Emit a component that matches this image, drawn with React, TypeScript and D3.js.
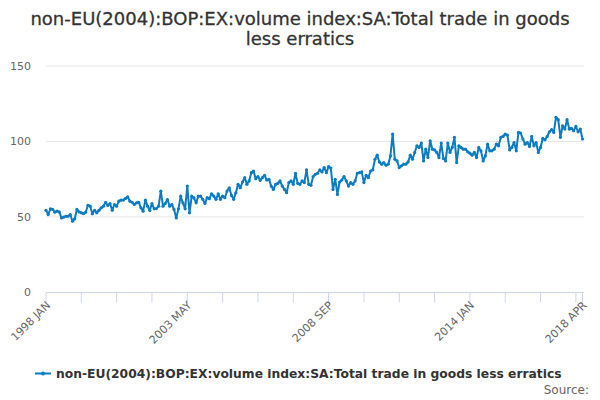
import React, { useEffect, useRef } from "react";
import * as d3 from "d3";

const titleLines = [
	"non-EU(2004):BOP:EX:volume index:SA:Total trade in goods",
	"less erratics",
];
const seriesName =
	"non-EU(2004):BOP:EX:volume index:SA:Total trade in goods less erratics";
const monthNames = ["JAN", "FEB", "MAR", "APR", "MAY", "JUN", "JUL", "AUG", "SEP", "OCT", "NOV", "DEC"];
const startYear = 1998;

// monthly values, 1998 JAN .. 2018 APR
const values = [
	54.4, 51.5, 55.3, 54.9, 53.1, 53.8, 53.3, 49.3, 49.8, 50.4,
	50.4, 51.5, 47.1, 48.7, 54.9, 53.3, 52.7, 52.2, 53.1, 57.7,
	57.1, 52.0, 54.4, 52.7, 54.4, 56.0, 57.1, 59.7, 57.5, 58.8,
	54.4, 58.2, 57.1, 60.4, 61.1, 61.1, 62.2, 63.3, 60.4, 59.7,
	58.2, 59.3, 59.7, 56.0, 53.8, 61.1, 57.1, 54.2, 58.8, 55.3,
	55.5, 57.1, 67.0, 57.1, 58.8, 61.5, 57.1, 58.2, 54.9, 49.3,
	55.3, 63.7, 59.3, 55.3, 70.4, 52.7, 63.7, 62.6, 59.3, 63.7,
	63.8, 61.6, 58.9, 62.7, 62.0, 65.3, 63.8, 61.6, 65.3, 61.6,
	63.8, 62.7, 67.1, 69.3, 64.2, 61.6, 66.0, 71.6, 69.3, 73.1,
	76.0, 71.6, 73.8, 79.3, 80.4, 75.3, 76.7, 74.2, 76.0, 77.6,
	74.4, 74.9, 70.4, 68.2, 71.6, 72.2, 73.8, 70.4, 68.2, 66.0,
	72.7, 73.8, 71.6, 78.9, 72.2, 71.6, 73.8, 72.7, 81.1, 71.6,
	70.9, 76.7, 78.2, 78.9, 81.1, 79.8, 82.7, 79.3, 83.3, 82.4,
	68.2, 74.9, 64.9, 73.1, 74.4, 76.7, 73.8, 70.4, 72.7, 71.6,
	73.8, 78.9, 79.3, 79.8, 72.7, 77.6, 76.0, 80.4, 81.1, 88.2,
	90.9, 86.4, 84.9, 86.0, 84.2, 84.9, 90.4, 104.9, 88.2, 87.1,
	82.7,
	83.8, 84.9, 84.9, 86.4, 90.9, 88.2, 92.7, 97.1, 96.0, 98.9,
	87.1, 94.9, 89.3, 100.4, 94.9, 94.4, 92.7, 89.3, 98.9, 88.7,
	87.1, 98.9, 92.7, 96.0, 102.7, 86.0, 97.1, 96.0, 94.9, 94.9,
	93.1, 92.2, 90.9, 92.7, 89.3, 96.0, 93.8, 87.1, 90.4, 98.2,
	93.8, 93.8, 94.9, 98.2, 97.1, 102.7, 103.3, 104.9, 104.2, 94.4,
	96.0, 99.3, 93.8, 106.0, 105.6, 101.6, 98.2, 99.3, 96.7, 103.3,
	97.1, 99.3, 92.7, 96.0, 102.0, 101.1, 103.3, 106.4, 107.8, 106.0,
	116.0, 114.4, 102.7, 110.4, 108.2, 114.4, 108.2, 108.7, 107.1, 110.0,
	106.4, 108.2, 101.6,
];

const months = values.map(
	(_, i) => `${startYear + Math.floor(i / 12)} ${monthNames[i % 12]}`
);
const yTicks = [0, 50, 100, 150];
const labelMonths = ["1998 JAN", "2003 MAY", "2008 SEP", "2014 JAN", "2018 APR"];

export default function App() {
	const svgRef = useRef(null);

	useEffect(() => {
		document.body.style.margin = "0";
		const font = "'DejaVu Sans', Verdana, sans-serif";
		const color = "#0b7cc2";

		const svg = d3.select(svgRef.current);
		svg.selectAll("*").remove();

		const x = d3.scalePoint().domain(months).range([46, 582.5]);
		const y = d3.scaleLinear().domain([0, 150]).range([292.3, 66]);

		// title
		svg.append("g")
			.selectAll("text")
			.data(titleLines)
			.join("text")
			.attr("x", 300)
			.attr("y", (d, i) => 25 + i * 20)
			.attr("text-anchor", "middle")
			.attr("font-family", font)
			.attr("font-size", 18)
			.attr("fill", "#333333")
			.attr("stroke", "#333333")
			.attr("stroke-width", 0.3)
			.text((d) => d);

		// gridlines + y labels
		const grid = svg.append("g");
		grid.selectAll("line")
			.data(yTicks.filter((t) => t > 0))
			.join("line")
			.attr("x1", 46)
			.attr("x2", 584)
			.attr("y1", (d) => y(d))
			.attr("y2", (d) => y(d))
			.attr("stroke", "#e6e6e6");
		grid.selectAll("text")
			.data(yTicks)
			.join("text")
			.attr("x", 31)
			.attr("y", (d) => y(d) + 4)
			.attr("text-anchor", "end")
			.attr("font-family", font)
			.attr("font-size", 11)
			.attr("fill", "#666666")
			.text((d) => d);

		// x axis
		const xAxis = svg.append("g");
		xAxis.append("line")
			.attr("x1", 46)
			.attr("x2", 584)
			.attr("y1", 292.5)
			.attr("y2", 292.5)
			.attr("stroke", "#ccd6eb");
		const tickMonths = months.filter((d, i) => i % 16 === 0 || i === months.length - 1);
		xAxis.selectAll("line.tick")
			.data(tickMonths)
			.join("line")
			.attr("class", "tick")
			.attr("x1", (d) => x(d))
			.attr("x2", (d) => x(d))
			.attr("y1", 292.5)
			.attr("y2", 302.5)
			.attr("stroke", "#ccd6eb");
		xAxis.selectAll("text")
			.data(labelMonths)
			.join("text")
			.attr("transform", (d) => `translate(${x(d) + 5},${306}) rotate(-45)`)
			.attr("text-anchor", "end")
			.attr("font-family", font)
			.attr("font-size", 11)
			.attr("fill", "#666666")
			.text((d) => d);

		// series line
		const line = d3
			.line()
			.x((d, i) => x(months[i]))
			.y((d) => y(d));
		svg.append("path")
			.datum(values)
			.attr("fill", "none")
			.attr("stroke", color)
			.attr("stroke-width", 2)
			.attr("stroke-linejoin", "round")
			.attr("d", line);
		svg.append("g")
			.selectAll("circle")
			.data(values)
			.join("circle")
			.attr("cx", (d, i) => x(months[i]))
			.attr("cy", (d) => y(d))
			.attr("r", 1.6)
			.attr("fill", color);

		// legend
		const legend = svg.append("g");
		legend.append("line")
			.attr("x1", 35)
			.attr("x2", 51)
			.attr("y1", 373.5)
			.attr("y2", 373.5)
			.attr("stroke", color)
			.attr("stroke-width", 2);
		legend.append("circle")
			.attr("cx", 43)
			.attr("cy", 373.5)
			.attr("r", 2)
			.attr("fill", color);
		legend.append("text")
			.attr("x", 56)
			.attr("y", 378)
			.attr("font-family", font)
			.attr("font-size", 12.3)
			.attr("font-weight", "bold")
			.attr("fill", "#333333")
			.text(seriesName);

		svg.append("text")
			.attr("x", 589)
			.attr("y", 394)
			.attr("text-anchor", "end")
			.attr("font-family", font)
			.attr("font-size", 12)
			.attr("fill", "#666666")
			.text("Source:");
	}, []);

	return (
		<svg
			ref={svgRef}
			width={600}
			height={400}
			style={{ position: "absolute", left: 0, top: 0, background: "#fff" }}
		></svg>
	);
}
